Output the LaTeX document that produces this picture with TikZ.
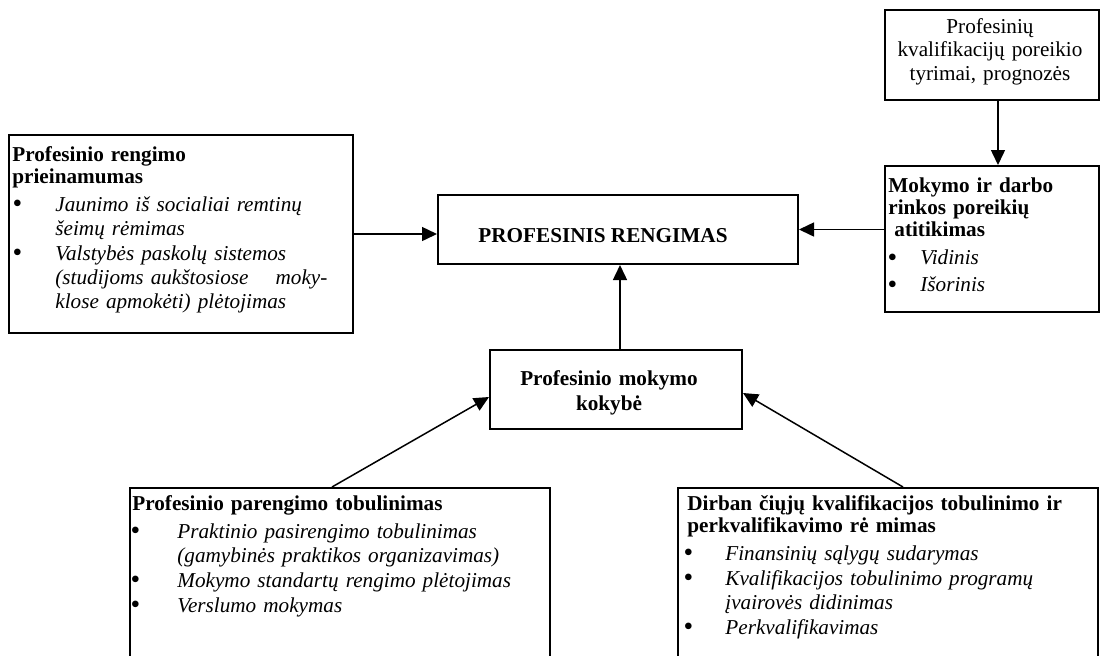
\documentclass[tikz,border=0pt]{standalone}
\usepackage{fontspec}
\setmainfont{Liberation Serif}
\usetikzlibrary{arrows.meta}

% bold heading lines of a box
\newcommand\hd[1]{{\bfseries\fontsize{10.6}{11}\selectfont #1\par}}
% bullet glyph
\newcommand\bdot{\raisebox{-0.08em}{\scalebox{1.3}{\textbullet}}}
% bulleted italic item: [bullet centre offset]{hanging indent}{text}
\newcommand\bitem[3][2pt]{\hangindent=#2\hangafter=1\noindent
  \makebox[#2][l]{\hspace{#1}\makebox[0pt]{\bdot}}{\itshape #3\par}}

\begin{document}
\begin{tikzpicture}[x=0.5pt,y=-0.5pt,
  box/.style={draw,line width=1pt,inner sep=0pt},
  txt/.style={inner sep=0pt,anchor=base west,align=left,
    font=\fontsize{10.6}{12}\selectfont,
    execute at begin node=\setlength{\parskip}{0.5pt}},
  ctxt/.style={inner sep=0pt,anchor=base,align=center},
  link/.style={line width=0.75pt,-{Triangle[length=7.5pt,width=7pt]}}]
\path[use as bounding box,clip] (0,0) rectangle (1100,655);

% frames
\node[box,minimum width=107pt,minimum height=45pt]   (tr) at (992,55)    {};
\node[box,minimum width=107pt,minimum height=73pt]   (mk) at (992,239)   {};
\node[box,minimum width=180pt,minimum height=34.5pt] (pr) at (618,229.5) {};
\node[box,minimum width=126pt,minimum height=39.5pt] (kk) at (616,389.5) {};
\node[box,minimum width=172pt,minimum height=99pt]   (lb) at (181,234)   {};
\node[box,minimum width=210pt,minimum height=106pt]  (bl) at (340,594)   {};
\node[box,minimum width=210pt,minimum height=106pt]  (br) at (888,594)   {};

% texts
\node[ctxt,text width=107pt,font=\fontsize{10.6}{11.75}\selectfont] (trt) at (990,33)
  {Profesinių\\kvalifikacijų poreikio\\tyrimai, prognozės};

\node[txt,text width=102.5pt] (mkt) at (888,192)
  {\hd{Mokymo ir darbo\newline rinkos poreikių\newline\hspace*{3pt}atitikimas}%
   \vspace{1.8pt}%
   \bitem{16pt}{Vidinis}%
   \vspace{1pt}%
   \bitem{16pt}{Išorinis}};

\node[ctxt,font=\bfseries\fontsize{10.6}{12}\selectfont] (prt) at (603,242)
  {PROFESINIS RENGIMAS};

\node[ctxt,text width=126pt,font=\bfseries\fontsize{10.6}{12.5}\selectfont] (kkt) at (609,385)
  {Profesinio mokymo\\kokybė};

\node[txt,text width=157.5pt] (lbt) at (12,161)
  {\hd{Profesinio rengimo\newline prieinamumas}%
   \vspace{1.5pt}%
   \bitem[2.5pt]{21.5pt}{Jaunimo iš socialiai remtinų\newline šeimų rėmimas}%
   \bitem[2.5pt]{21.5pt}{Valstybės paskolų sistemos\newline (studijoms aukštosiose\hfill moky-\newline klose apmokėti) plėtojimas}};

\node[txt,text width=205pt] (blt) at (132,510)
  {\hd{Profesinio parengimo tobulinimas}%
   \vspace{1.5pt}%
   \bitem[1.5pt]{22.5pt}{Praktinio pasirengimo tobulinimas\newline (gamybinės praktikos organizavimas)}%
   \bitem[1.5pt]{22.5pt}{Mokymo standartų rengimo plėtojimas}%
   \bitem[1.5pt]{22.5pt}{Verslumo mokymas}};

\node[txt,text width=205pt] (brt) at (687,510)
  {\hd{Dirban čiųjų kvalifikacijos tobulinimo ir\newline perkvalifikavimo rė mimas}%
   \vspace{1.5pt}%
   \bitem[0.5pt]{19pt}{Finansinių sąlygų sudarymas}%
   \bitem[0.5pt]{19pt}{Kvalifikacijos tobulinimo programų\newline įvairovės didinimas}%
   \bitem[0.5pt]{19pt}{Perkvalifikavimas}};

% connectors
\draw[link] ([xshift=3pt]tr.south) -- ([xshift=3pt]tr.south |- mk.north);
\draw[link] (mk.west |- pr.east) -- (pr.east);
\draw[link] (lb.east) -- (lb.east -| pr.west);
\draw[link] ([xshift=2pt]kk.north) -- ([xshift=2pt]kk.north |- pr.south);
\draw[link] ([xshift=-4pt]bl.north) -- ([yshift=-3.75pt]kk.west);
\draw[link] ([xshift=7.5pt]br.north) -- ([yshift=-1.75pt]kk.east);
\end{tikzpicture}
\end{document}
